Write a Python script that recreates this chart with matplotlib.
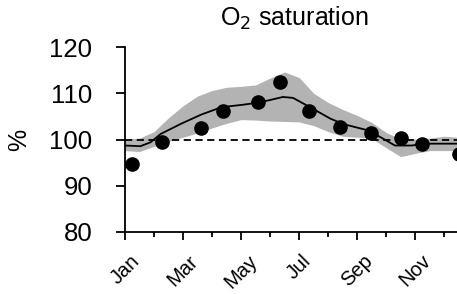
import matplotlib.pyplot as plt
import numpy as np

plt.rcParams['font.family'] = ['Liberation Sans', 'DejaVu Sans']

# observed monthly values (month index, %)
obs_month = [0.23, 1.29, 2.63, 3.37, 4.58, 5.35, 6.35, 7.39, 8.48, 9.5, 10.23, 11.5]
obs_value = [94.7, 99.4, 102.5, 106.1, 108.1, 112.5, 106.1, 102.8, 101.5, 100.4, 99.0, 96.9]

# fitted seasonal curve
fit_month = [0, 0.53, 0.88, 1.23, 1.93, 2.63, 3.33, 4.04, 4.5, 4.97, 5.44, 5.79,
             6.37, 7.08, 7.54, 8.36, 8.83, 9.3, 9.88, 10.35, 11.65]
fit_value = [98.7, 98.55, 99.4, 101.2, 103.4, 105.4, 107.0, 107.5, 107.9, 108.5, 109.2, 109.0,
             107.0, 104.5, 103.3, 102.0, 100.4, 98.7, 98.7, 99.1, 99.1]

# confidence band
band_month = [0, 0.5, 1, 1.5, 2, 2.5, 3, 3.5, 4, 4.5, 5, 5.5, 6, 6.5, 7, 7.5, 8, 8.5,
              9, 9.5, 10, 10.5, 11, 11.65]
band_upper = [100.1, 100.3, 101.7, 104.7, 107.3, 109.4, 110.6, 111.3, 111.5, 111.8, 113.3, 114.6,
              113.4, 110.0, 108.0, 106.5, 105.2, 103.7, 101.5, 100.1, 100.1, 100.3, 100.7, 100.4]
band_lower = [97.6, 97.4, 98.5, 99.6, 100.5, 101.4, 102.5, 103.5, 104.3, 104.2, 104.0, 103.9,
              103.8, 103.0, 101.7, 100.7, 100.5, 100.2, 98.2, 96.3, 97.0, 97.6, 97.6, 97.6]

month_labels = ['Jan', 'Mar', 'May', 'Jul', 'Sep', 'Nov']

fig = plt.figure(figsize=(4.57, 2.94), dpi=100)
ax = fig.add_axes([0.2735, 0.211, 0.74, 0.629])

ax.fill_between(band_month, band_lower, band_upper, color='#b3b3b3', lw=0, zorder=1)
ax.axhline(100, color='black', ls=(0, (4, 2.5)), lw=1.3, zorder=2)
ax.plot(fit_month, fit_value, color='black', lw=1.3, zorder=3)
ax.plot(obs_month, obs_value, 'o', color='black', markersize=9.5, zorder=4, clip_on=False)

ax.set_xlim(0, 11.65)
ax.set_ylim(80, 120)
ax.set_yticks([80, 90, 100, 110, 120])
ax.set_xticks(np.arange(0, 12, 2))
ax.set_xticklabels(month_labels, rotation=45, ha='center')
ax.set_xticks(np.arange(1, 12, 2), minor=True)

for s in ['top', 'right']:
    ax.spines[s].set_visible(False)
for s in ['left', 'bottom']:
    ax.spines[s].set_linewidth(1.3)

ax.tick_params(axis='y', labelsize=18.5, length=6.5, width=1.3, pad=17)
ax.tick_params(axis='x', which='major', labelsize=14.5, length=6, width=1.3, pad=8)
ax.tick_params(axis='x', which='minor', length=3.5, width=1.3)

ax.set_ylabel('%', fontsize=18, labelpad=13)
ax.set_title('O$_2$ saturation', fontsize=18, pad=15)

fig.savefig('out.png', dpi=100)
